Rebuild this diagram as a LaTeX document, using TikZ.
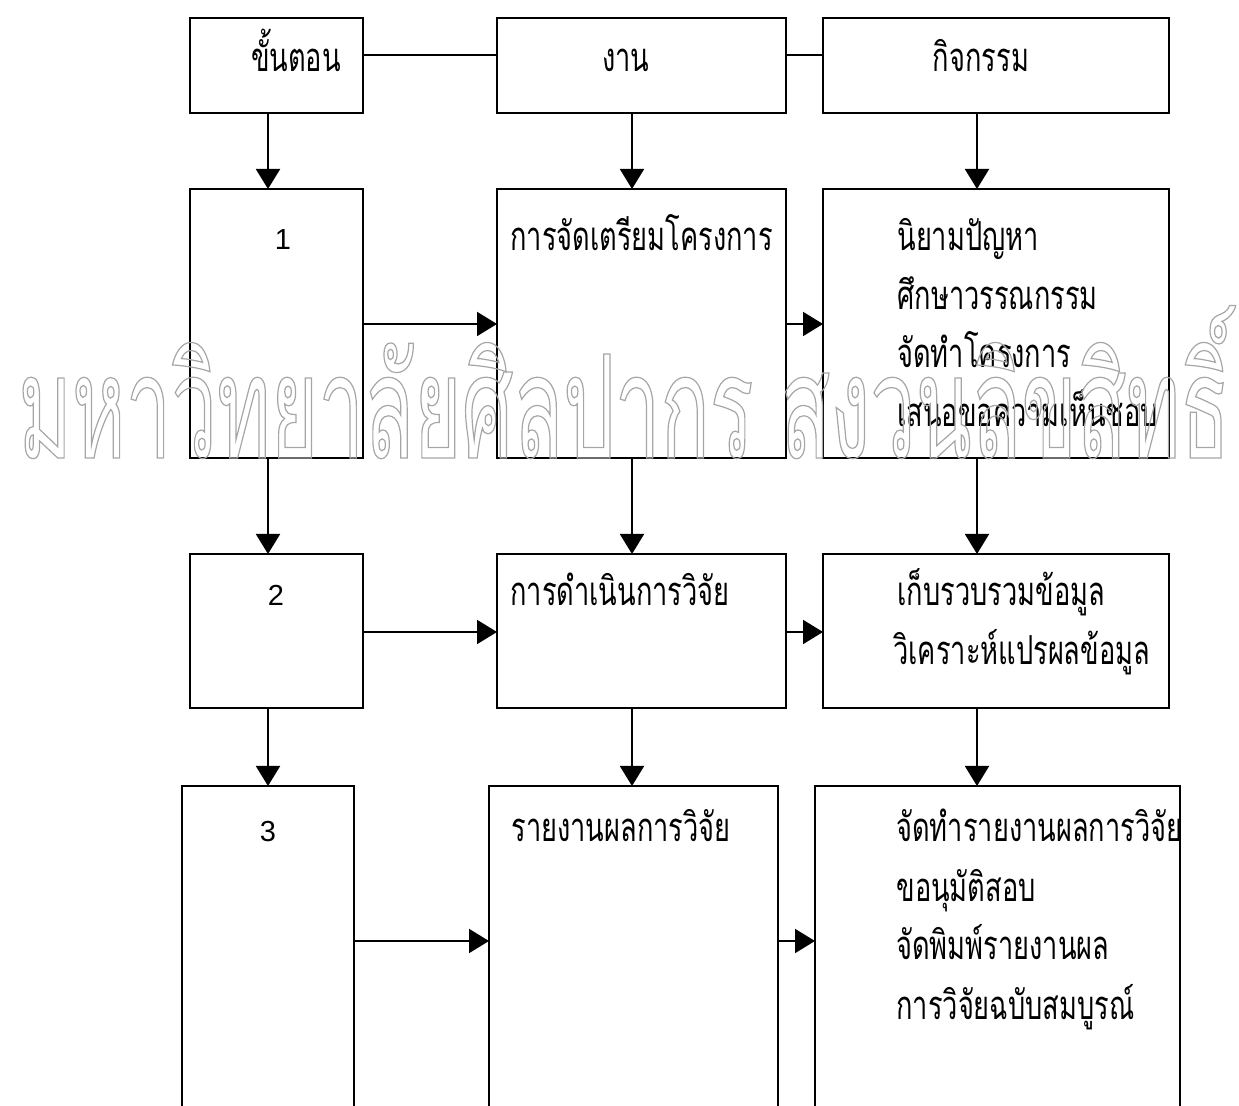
\documentclass[tikz,border=0pt]{standalone}
\usepackage{fontspec}
\setmainfont{Liberation Sans}
\newfontfamily\thai[Script=Thai,FakeStretch=0.68]{Loma}
\newfontfamily\wmfont[Script=Thai,FakeStretch=0.565]{Loma}
\usetikzlibrary{arrows.meta,fit}
\newcommand{\outlinetext}[1]{\special{pdf:literal direct 1 Tr 0.6 w}#1\special{pdf:literal direct 0 Tr}}
\tikzset{
  box/.style={draw, line width=1pt, inner sep=0pt, outer sep=0pt},
  arr/.style={line width=1pt, -{Triangle[width=12pt,length=10pt]}},
  link/.style={line width=1pt},
  txt/.style={inner sep=0pt, anchor=base west, font=\thai\fontsize{20}{24}\selectfont},
  ctxt/.style={inner sep=0pt, anchor=base, font=\thai\fontsize{20}{24}\selectfont},
  num/.style={inner sep=0pt, anchor=base, font=\fontsize{14.5}{16}\selectfont},
  wmark/.style={inner sep=0pt, anchor=base west, text=black!35, font=\wmfont\fontsize{72}{80}\selectfont},
}
\begin{document}
\begin{tikzpicture}[x=0.5pt,y=-0.5pt]
\useasboundingbox (0,0) rectangle (1239,1106);
\clip (0,0) rectangle (1239,1106);
% column and row guides
\coordinate (c1) at (268,0);
\coordinate (c2) at (632,0);
\coordinate (c3) at (977,0);
\coordinate (y0) at (0,55);
\coordinate (y1) at (0,324);
\coordinate (y2) at (0,632);
\coordinate (y3) at (0,941);
% header row
\node[box, fit={(190,18)(363,113)}] (h1) {};
\node[box, fit={(497,18)(786,113)}] (h2) {};
\node[box, fit={(823,18)(1169,113)}] (h3) {};
\node[ctxt] (th1) at (296,72) {ขั้นตอน};
\node[ctxt] (th2) at (626,72) {งาน};
\node[ctxt] (th3) at (981,72) {กิจกรรม};
% row 1
\node[box, fit={(190,189)(363,458)}] (r1a) {};
\node[box, fit={(497,189)(786,458)}] (r1b) {};
\node[box, fit={(823,189)(1169,458)}] (r1c) {};
\node[num] (t1a) at (283,250) {1};
\node[txt] (t1b) at (510,251) {การจัดเตรียมโครงการ};
\node[txt] (t1c1) at (897,251) {นิยามปัญหา};
\node[txt] (t1c2) at (897,310) {ศึกษาวรรณกรรม};
\node[txt] (t1c3) at (897,368) {จัดทำโครงการ};
\node[txt] (t1c4) at (897,427) {เสนอขอความเห็นชอบ};
% row 2
\node[box, fit={(190,554)(363,708)}] (r2a) {};
\node[box, fit={(497,554)(786,708)}] (r2b) {};
\node[box, fit={(823,554)(1169,708)}] (r2c) {};
\node[num] (t2a) at (276,606) {2};
\node[txt] (t2b) at (510,606) {การดำเนินการวิจัย};
\node[txt] (t2c1) at (897,606) {เก็บรวบรวมข้อมูล};
\node[txt] (t2c2) at (893,665) {วิเคราะห์แปรผลข้อมูล};
% row 3
\node[box, fit={(182,786)(354,1140)}] (r3a) {};
\node[box, fit={(489,786)(778,1140)}] (r3b) {};
\node[box, fit={(815,786)(1180,1140)}] (r3c) {};
\node[num] (t3a) at (268,842) {3};
\node[txt] (t3b) at (511,842) {รายงานผลการวิจัย};
\node[txt] (t3c1) at (896,842) {จัดทำรายงานผลการวิจัย};
\node[txt] (t3c2) at (896,902) {ขอนุมัติสอบ};
\node[txt] (t3c3) at (896,960) {จัดพิมพ์รายงานผล};
\node[txt] (t3c4) at (896,1020) {การวิจัยฉบับสมบูรณ์};
% header links
\draw[link] (h1.east |- y0) -- (h2.west |- y0);
\draw[link] (h2.east |- y0) -- (h3.west |- y0);
% vertical arrows
\draw[arr] (h1.south -| c1) -- (r1a.north -| c1);
\draw[arr] (h2.south -| c2) -- (r1b.north -| c2);
\draw[arr] (h3.south -| c3) -- (r1c.north -| c3);
\draw[arr] (r1a.south -| c1) -- (r2a.north -| c1);
\draw[arr] (r1b.south -| c2) -- (r2b.north -| c2);
\draw[arr] (r1c.south -| c3) -- (r2c.north -| c3);
\draw[arr] (r2a.south -| c1) -- (r3a.north -| c1);
\draw[arr] (r2b.south -| c2) -- (r3b.north -| c2);
\draw[arr] (r2c.south -| c3) -- (r3c.north -| c3);
% horizontal arrows
\draw[arr] (r1a.east |- y1) -- (r1b.west |- y1);
\draw[arr] (r1b.east |- y1) -- (r1c.west |- y1);
\draw[arr] (r2a.east |- y2) -- (r2b.west |- y2);
\draw[arr] (r2b.east |- y2) -- (r2c.west |- y2);
\draw[arr] (r3a.east |- y3) -- (r3b.west |- y3);
\draw[arr] (r3b.east |- y3) -- (r3c.west |- y3);
% watermark
\node[wmark] (wm) at (18,458) {\outlinetext{มหาวิทยาลัยศิลปากร สงวนลิขสิทธิ์}};
\end{tikzpicture}
\end{document}
